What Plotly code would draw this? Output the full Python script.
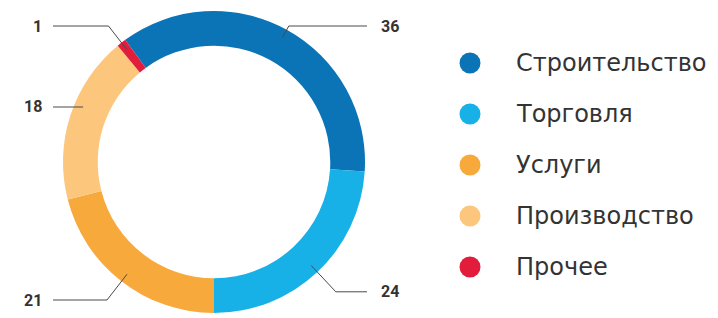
import math
import plotly.graph_objects as go

# ---- data ----
categories = ["Строительство", "Торговля", "Услуги", "Производство", "Прочее"]
values = [36, 24, 21, 18, 1]
colors = ["#0b74b6", "#17b1e7", "#f8a93b", "#fcc67d", "#e21c3b"]

# ---- layout constants (page pixel space; the page body adds an 8px margin) ----
PAGE_W, PAGE_H = 718, 318
OFF = 8
W, H = PAGE_W - OFF, PAGE_H - OFF
CX, CY, R = 214, 162, 151
HOLE = 0.77
START = -36          # first slice starts 36 deg left of 12 o'clock, clockwise
R_ANCHOR = 142
R_ELBOW = 178
Y_MIN, Y_MAX = 26, 300
LEFT_END, RIGHT_END = 53, 367
LEFT_TXT, RIGHT_TXT = 44, 379
LEG_X, LEG_TXT_X, LEG_Y0, LEG_DY = 470, 514, 63, 51
LINE_COLOR = "#4a4a4a"
TEXT_COLOR = "#333333"

fig = go.Figure()
fig.add_trace(go.Pie(
    labels=categories, values=values,
    marker=dict(colors=colors, line=dict(width=0)),
    hole=HOLE, sort=False, direction="clockwise", rotation=START,
    textinfo="none", hoverinfo="label+value", showlegend=False,
    domain=dict(x=[(CX - R - OFF) / W, (CX + R - OFF) / W],
                y=[(PAGE_H - CY - R) / H, (PAGE_H - CY + R) / H]),
))

# legend built from the categories (markers on a pixel-space axis)
leg_y = [LEG_Y0 + i * LEG_DY for i in range(len(categories))]
fig.add_trace(go.Scatter(
    x=[LEG_X] * len(categories), y=leg_y, mode="markers",
    marker=dict(size=21, color=colors, line=dict(width=0)),
    hoverinfo="skip", showlegend=False,
))

annotations = []
for cat, y in zip(categories, leg_y):
    annotations.append(dict(x=LEG_TXT_X, y=y, xref="x", yref="y", text=cat,
                            showarrow=False, xanchor="left", yanchor="middle",
                            font=dict(family="DejaVu Sans", size=24, color=TEXT_COLOR)))

# value labels with leader lines, positioned from slice mid-angles
shapes = []
total = sum(values)
cum = 0
for cat, v in zip(categories, values):
    mid = START + (cum + v / 2) / total * 360
    cum += v
    t = math.radians(mid)
    s, c = math.sin(t), math.cos(t)
    right = s > 0
    ax_, ay_ = CX + R_ANCHOR * s, CY - R_ANCHOR * c
    ex, ey = CX + R_ELBOW * s, CY - R_ELBOW * c
    if ey < Y_MIN:
        r = (CY - Y_MIN) / c
        ex, ey = CX + r * s, Y_MIN
    elif ey > Y_MAX:
        r = (CY - Y_MAX) / c
        ex, ey = CX + r * s, Y_MAX
    col = RIGHT_END if right else LEFT_END
    if (right and ex > col - 15) or ((not right) and ex < col + 15):
        dx = math.sqrt(max(R_ANCHOR ** 2 - (ey - CY) ** 2, 0))
        ax_ = CX + dx if right else CX - dx
        ay_ = ey
        ex = ax_
    shapes.append(dict(type="path", xref="x", yref="y", layer="above",
                       path=f"M{ax_:.1f},{ay_:.1f} L{ex:.1f},{ey:.1f} L{col},{ey:.1f}",
                       line=dict(color=LINE_COLOR, width=1)))
    annotations.append(dict(x=RIGHT_TXT if right else LEFT_TXT, y=ey, xref="x", yref="y",
                            text=f"<b>{v}</b>", showarrow=False,
                            xanchor="left" if right else "right", yanchor="middle",
                            font=dict(family="Roboto", size=16, color=TEXT_COLOR)))

fig.update_layout(
    width=W, height=H,
    margin=dict(l=0, r=0, t=0, b=0),
    paper_bgcolor="white", plot_bgcolor="rgba(0,0,0,0)",
    xaxis=dict(range=[OFF, PAGE_W], visible=False, fixedrange=True),
    yaxis=dict(range=[PAGE_H, OFF], visible=False, fixedrange=True),
    shapes=shapes, annotations=annotations,
    showlegend=False,
)

fig.write_html("out.html")
